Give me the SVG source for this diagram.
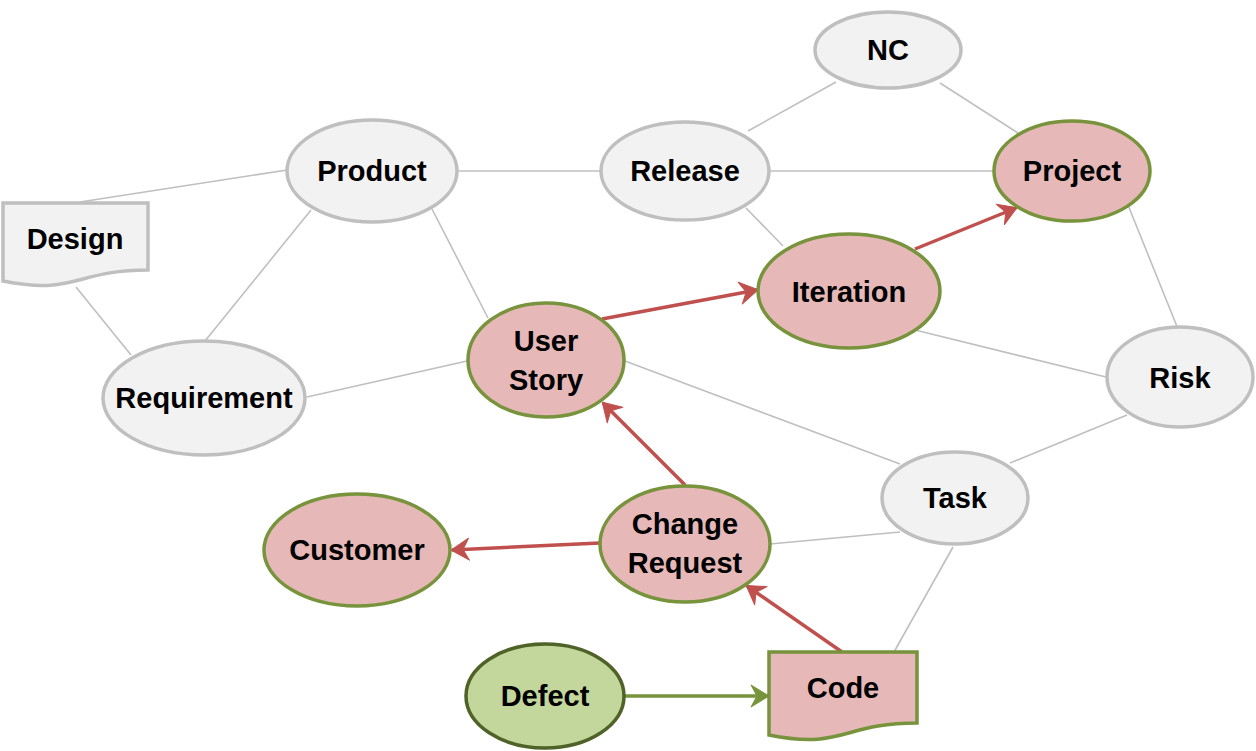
<svg xmlns="http://www.w3.org/2000/svg" width="1256" height="751" viewBox="0 0 1256 751">
<defs>
<style>
.g{fill:#f2f2f2;stroke:#bfbfbf;stroke-width:3.5}
.p{fill:#e6b8b7;stroke:#77933c;stroke-width:3.5}
.d{fill:#c3d69b;stroke:#4f6228;stroke-width:3.5}
.c{stroke:#bfbfbf;stroke-width:1.6;fill:none}
.r{stroke:#c0504d;stroke-width:3.5;fill:none}
.v{stroke:#77933c;stroke-width:3.5;fill:none}
text{font-family:"Liberation Sans",Arial,sans-serif;font-weight:bold;font-size:29px;fill:#000;text-anchor:middle}
</style>
<marker id="ar" viewBox="-20 -12 22 24" refX="0" refY="0" markerWidth="22" markerHeight="24" markerUnits="userSpaceOnUse" orient="auto">
<path d="M1,0 L-17,-11 L-11,0 L-17,11 Z" fill="#c0504d" stroke="#c0504d" stroke-width="1" stroke-linejoin="round"/>
</marker>
<marker id="ag" viewBox="-20 -12 22 24" refX="0" refY="0" markerWidth="22" markerHeight="24" markerUnits="userSpaceOnUse" orient="auto">
<path d="M1,0 L-17,-11 L-11,0 L-17,11 Z" fill="#77933c" stroke="#77933c" stroke-width="1" stroke-linejoin="round"/>
</marker>
</defs>
<rect width="1256" height="751" fill="#ffffff"/>
<g id="connectors">
<line class="c" x1="80" y1="202" x2="287" y2="170"/>
<line class="c" x1="76" y1="287" x2="131" y2="355"/>
<line class="c" x1="311" y1="210" x2="205" y2="341"/>
<line class="c" x1="432" y1="209" x2="488" y2="318"/>
<line class="c" x1="457" y1="171" x2="601" y2="171"/>
<line class="c" x1="307" y1="397" x2="467" y2="361"/>
<line class="c" x1="748" y1="131" x2="836" y2="82"/>
<line class="c" x1="940" y1="83" x2="1018" y2="133"/>
<line class="c" x1="770" y1="171" x2="994" y2="171"/>
<line class="c" x1="746" y1="208" x2="783" y2="246"/>
<line class="c" x1="1128" y1="205" x2="1178" y2="329"/>
<line class="c" x1="915" y1="330" x2="1106" y2="377"/>
<line class="c" x1="625" y1="361" x2="900" y2="464"/>
<line class="c" x1="1127" y1="415" x2="1010" y2="463"/>
<line class="c" x1="770" y1="544" x2="900" y2="532"/>
<line class="c" x1="953" y1="547" x2="894" y2="652"/>
<line class="r" x1="602" y1="319" x2="757" y2="290" marker-end="url(#ar)"/>
<line class="r" x1="915" y1="249" x2="1016" y2="208" marker-end="url(#ar)"/>
<line class="r" x1="685" y1="485" x2="603" y2="403" marker-end="url(#ar)"/>
<line class="r" x1="600" y1="543" x2="452" y2="550" marker-end="url(#ar)"/>
<line class="r" x1="842" y1="652" x2="747" y2="586" marker-end="url(#ar)"/>
<line class="v" x1="625" y1="696" x2="768" y2="696" marker-end="url(#ag)"/>
</g>
<g id="node-nc"><ellipse class="g" cx="888" cy="50" rx="73" ry="38"/><text x="888" y="60">NC</text></g>
<g id="node-product"><ellipse class="g" cx="372" cy="171" rx="85" ry="51"/><text x="372" y="181">Product</text></g>
<g id="node-release"><ellipse class="g" cx="685" cy="171" rx="84" ry="49"/><text x="685" y="181">Release</text></g>
<g id="node-project"><ellipse class="p" cx="1072" cy="171" rx="78" ry="50"/><text x="1072" y="181">Project</text></g>
<g id="node-design"><path class="g" d="M3,203 H148 V270 C75.5,270 75.5,295.5 3,281 Z"/><text x="75" y="249">Design</text></g>
<g id="node-iteration"><ellipse class="p" cx="849" cy="291" rx="91" ry="57"/><text x="849" y="302">Iteration</text></g>
<g id="node-userstory"><ellipse class="p" cx="546" cy="360" rx="78" ry="57"/><text x="546" y="351">User</text><text x="546" y="390">Story</text></g>
<g id="node-requirement"><ellipse class="g" cx="204" cy="398" rx="101" ry="57"/><text x="204" y="408">Requirement</text></g>
<g id="node-risk"><ellipse class="g" cx="1180" cy="377" rx="73" ry="50"/><text x="1180" y="388">Risk</text></g>
<g id="node-task"><ellipse class="g" cx="955" cy="498" rx="73" ry="46"/><text x="955" y="508">Task</text></g>
<g id="node-changerequest"><ellipse class="p" cx="685" cy="544" rx="85" ry="58"/><text x="685" y="534">Change</text><text x="685" y="573">Request</text></g>
<g id="node-customer"><ellipse class="p" cx="357" cy="550" rx="93" ry="56"/><text x="357" y="560">Customer</text></g>
<g id="node-defect"><ellipse class="d" cx="545" cy="696" rx="79" ry="52"/><text x="545" y="706">Defect</text></g>
<g id="node-code"><path class="p" d="M769,652 H917 V723 C843,723 843,750 769,735 Z"/><text x="843" y="698">Code</text></g>
</svg>
